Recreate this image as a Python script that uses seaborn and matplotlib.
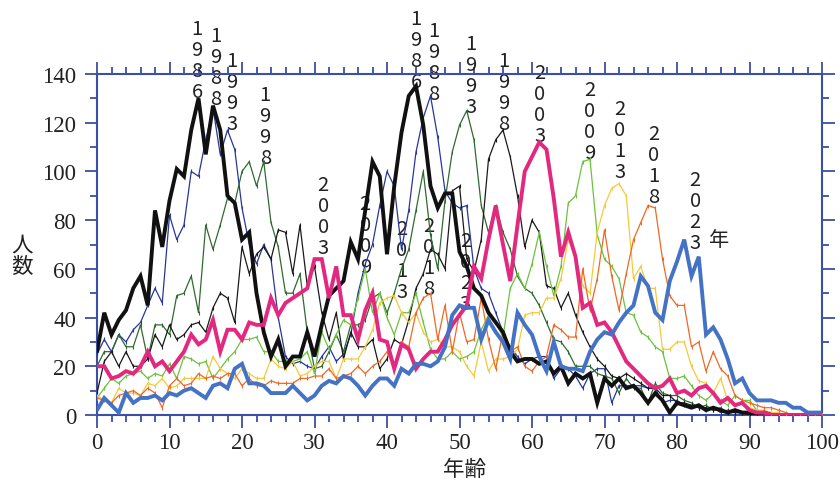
import numpy as np
import pandas as pd
import matplotlib
matplotlib.use("Agg")
import matplotlib.pyplot as plt
from matplotlib.ticker import MultipleLocator
import seaborn as sns

sns.set_theme(style="white")
plt.rcParams['font.family'] = ['Noto Sans CJK JP', 'DejaVu Sans']

# 年齢 0..100
ages = list(range(101))

y1986 = [26, 42, 33, 39, 43, 52, 57, 45, 84, 69, 88, 101, 98, 117, 130, 107, 127, 117, 90, 87,
         72, 75, 50, 34, 24, 31, 20, 24, 24, 34, 24, 37, 49, 52, 55, 71, 64, 84, 104, 98,
         66, 94, 116, 131, 135, 119, 94, 85, 91, 91, 67, 61, 52, 49, 42, 38, 34, 26, 22, 23,
         23, 21, 22, 17, 20, 13, 17, 15, 17, 5, 15, 12, 15, 11, 12, 9, 5, 9, 6, 1,
         5, 4, 3, 4, 2, 3, 2, 1, 2, 1, 1, 0, 1, 0, 0, 0, 0, 0, 0, 0, 0]
y1988 = [25, 31, 26, 33, 30, 35, 38, 45, 52, 46, 82, 72, 78, 100, 98, 113, 126, 107, 117, 109,
         85, 70, 62, 70, 64, 40, 24, 21, 22, 20, 19, 24, 28, 22, 25, 33, 50, 62, 70, 86,
         100, 94, 68, 84, 108, 122, 131, 114, 92, 87, 85, 86, 60, 52, 50, 42, 34, 28, 24, 21,
         23, 24, 24, 15, 19, 19, 16, 11, 17, 19, 19, 5, 12, 12, 12, 12, 11, 11, 5, 6,
         6, 4, 4, 3, 2, 3, 1, 2, 1, 1, 0, 1, 0, 0, 0, 0, 0, 0, 0, 0, 0]
y1993 = [20, 26, 26, 33, 28, 28, 37, 23, 37, 37, 33, 49, 50, 57, 42, 78, 68, 78, 89, 87,
         100, 104, 94, 104, 79, 69, 50, 50, 58, 34, 19, 20, 26, 33, 26, 37, 37, 39, 48, 50,
         42, 50, 60, 68, 84, 100, 74, 60, 88, 108, 119, 125, 113, 86, 75, 86, 75, 68, 57, 52,
         50, 45, 38, 31, 30, 26, 20, 20, 20, 17, 16, 15, 9, 15, 11, 11, 5, 13, 9, 8,
         8, 6, 5, 3, 4, 2, 3, 1, 2, 1, 1, 0, 1, 0, 0, 0, 0, 0, 0, 0, 0]
y1998 = [9, 22, 26, 20, 26, 20, 20, 23, 33, 28, 37, 31, 33, 37, 38, 34, 44, 50, 48, 38,
         69, 58, 66, 69, 64, 76, 75, 58, 78, 53, 61, 42, 31, 42, 23, 34, 28, 28, 31, 19,
         23, 31, 29, 39, 52, 58, 68, 66, 60, 92, 94, 64, 59, 72, 105, 113, 117, 106, 90, 69,
         80, 75, 53, 52, 44, 50, 41, 34, 28, 23, 20, 16, 15, 17, 15, 13, 11, 11, 8, 8,
         5, 5, 4, 3, 3, 2, 2, 1, 1, 1, 0, 0, 0, 0, 0, 0, 0, 0, 0, 0, 0]
y2003 = [20, 20, 15, 16, 18, 17, 20, 26, 20, 22, 18, 22, 26, 33, 29, 31, 39, 26, 35, 35,
         31, 38, 37, 37, 48, 41, 46, 48, 50, 52, 64, 64, 48, 61, 41, 41, 31, 43, 50, 31,
         30, 19, 29, 27, 19, 23, 26, 26, 31, 37, 41, 45, 61, 56, 72, 86, 70, 55, 78, 100,
         106, 112, 109, 89, 65, 75, 65, 44, 46, 37, 38, 34, 28, 22, 19, 16, 13, 11, 12, 15,
         9, 10, 8, 11, 12, 9, 5, 7, 4, 5, 2, 1, 1, 0, 0, 0, 0, 0, 0, 0, 0]
y2009 = [7, 11, 15, 13, 16, 17, 18, 15, 17, 16, 21, 15, 24, 23, 21, 22, 15, 19, 23, 26,
         31, 31, 32, 26, 26, 22, 22, 22, 23, 26, 17, 34, 27, 33, 39, 37, 48, 60, 42, 50,
         40, 33, 42, 42, 50, 38, 27, 23, 23, 26, 23, 24, 26, 35, 41, 38, 32, 52, 58, 52,
         62, 75, 61, 49, 61, 87, 90, 104, 105, 74, 64, 61, 56, 42, 41, 34, 32, 28, 26, 15,
         15, 16, 12, 8, 6, 9, 6, 4, 8, 6, 6, 2, 1, 1, 0, 0, 0, 0, 0, 0, 0]
y2013 = [8, 6, 5, 11, 9, 9, 8, 13, 12, 15, 11, 12, 15, 15, 15, 15, 24, 19, 17, 15,
         19, 17, 15, 15, 23, 20, 19, 22, 16, 17, 20, 22, 22, 15, 23, 23, 23, 28, 35, 46,
         48, 49, 42, 38, 42, 34, 30, 31, 28, 28, 26, 20, 16, 30, 18, 23, 23, 24, 27, 41,
         42, 42, 48, 48, 56, 72, 65, 53, 50, 75, 86, 93, 95, 90, 56, 61, 52, 52, 27, 27,
         30, 30, 20, 14, 13, 9, 15, 6, 4, 5, 3, 2, 2, 1, 1, 0, 0, 0, 0, 0, 0]
y2018 = [7, 6, 5, 8, 9, 10, 8, 11, 9, 3, 12, 15, 12, 13, 17, 15, 16, 15, 17, 17,
         12, 15, 12, 12, 14, 13, 13, 13, 15, 15, 16, 16, 19, 15, 16, 17, 20, 17, 20, 22,
         26, 19, 30, 28, 42, 48, 50, 31, 45, 26, 42, 30, 31, 48, 31, 19, 34, 26, 28, 20,
         18, 22, 24, 37, 35, 32, 32, 60, 43, 56, 76, 57, 43, 58, 72, 79, 86, 85, 64, 49,
         45, 45, 28, 30, 18, 26, 19, 16, 8, 6, 5, 4, 3, 3, 2, 1, 0, 0, 0, 0, 0]
y2023 = [2, 7, 4, 1, 9, 5, 7, 7, 8, 6, 9, 8, 10, 11, 9, 7, 12, 13, 11, 19,
         21, 13, 13, 12, 9, 9, 9, 12, 9, 6, 8, 12, 14, 13, 16, 15, 12, 8, 12, 15,
         15, 12, 19, 17, 21, 21, 20, 22, 28, 41, 45, 44, 44, 31, 39, 34, 30, 23, 42, 37,
         33, 24, 18, 30, 20, 19, 19, 18, 26, 31, 34, 33, 38, 42, 45, 57, 53, 42, 39, 55,
         63, 72, 57, 65, 33, 36, 31, 23, 13, 15, 9, 6, 6, 6, 5, 5, 3, 3, 1, 1, 1]

years = ['1986', '1988', '1993', '1998', '2003', '2009', '2013', '2018', '2023']
series = [y1986, y1988, y1993, y1998, y2003, y2009, y2013, y2018, y2023]
colors = ['#111111', '#27379b', '#2f6a30', '#1a1a1a', '#e3287f',
          '#6cc23c', '#f6c93a', '#ef6824', '#4472c4']
thick = {'1986': True, '2003': True, '2023': True}

# ラベル位置 (年齢, 上端の人数)
label_x1 = [13.8, 16.4, 18.6, 23.2, 31.2, 37.0, 42.0, 45.8, 50.8]
label_y1 = [163, 160, 150, 136, 99, 91, 81, 82, 76]
label_x2 = [44.0, 46.4, 51.6, 56.1, 61.1, 68.0, 72.1, 76.8, 82.5]
label_y2 = [167, 162, 157, 150, 145, 138, 130, 120, 101]

df = pd.DataFrame({
    'year': np.repeat(years, len(ages)),
    'age': ages * len(years),
    'count': np.concatenate(series),
})

axis_color = '#3c4fa5'

fig = plt.figure(figsize=(8.4, 4.85), dpi=100)
ax = fig.add_axes([97 / 840, 69 / 485, 725 / 840, 341 / 485])

order = ['1988', '1993', '1998', '2009', '2013', '2018', '1986', '2003', '2023']
for z, yr in enumerate(order):
    c = colors[years.index(yr)]
    sub = df[df['year'] == yr]
    if thick.get(yr):
        sns.lineplot(data=sub, x='age', y='count', color=c, lw=2.8,
                     estimator=None, ax=ax, legend=False, zorder=5 + z,
                     solid_joinstyle='miter')
    else:
        sns.lineplot(data=sub, x='age', y='count', color=c, lw=0.9,
                     marker='|', markersize=3, markeredgewidth=0.8,
                     markeredgecolor=c, estimator=None, ax=ax,
                     legend=False, zorder=3 + z)

for i, yr in enumerate(years):
    txt = '\n'.join(yr)
    for lx, ly in ((label_x1[i], label_y1[i]), (label_x2[i], label_y2[i])):
        ax.text(lx, ly, txt, ha='center', va='top', fontsize=14.5,
                linespacing=1.0, color='#222222', zorder=1, clip_on=False)
ax.text(85.8, 72, '年', ha='center', va='center', fontsize=14.5,
        color='#222222', zorder=20)

ax.set_xlim(0, 100)
ax.set_ylim(0, 140)
ax.xaxis.set_major_locator(MultipleLocator(10))
ax.xaxis.set_minor_locator(MultipleLocator(2))
ax.yaxis.set_major_locator(MultipleLocator(20))
ax.yaxis.set_minor_locator(MultipleLocator(10))

for s in ax.spines.values():
    s.set_color(axis_color)
    s.set_linewidth(1.5)
    s.set_visible(True)

ax.tick_params(which='both', direction='out', color=axis_color, width=1.3,
               top=True, right=True, labeltop=False, labelright=False,
               bottom=True, left=True)
ax.tick_params(which='major', length=9)
ax.tick_params(which='minor', length=5)
ax.tick_params(axis='y', which='major', pad=6)
ax.tick_params(axis='x', which='major', pad=3)

for lab in ax.get_xticklabels() + ax.get_yticklabels():
    lab.set_fontfamily('Liberation Serif')
    lab.set_fontsize(16.5)
    lab.set_color('#222222')

ax.set_xlabel('')
ax.set_ylabel('')
fig.text(465 / 840, 1 - 470 / 485, '年齢', ha='center', va='center',
         fontsize=15.5, color='#222222')
fig.text(22 / 840, 1 - 256 / 485, '人\n数', ha='center', va='center',
         fontsize=15.5, linespacing=1.0, color='#222222')

ax.grid(False)
fig.savefig('out.png', dpi=100)
